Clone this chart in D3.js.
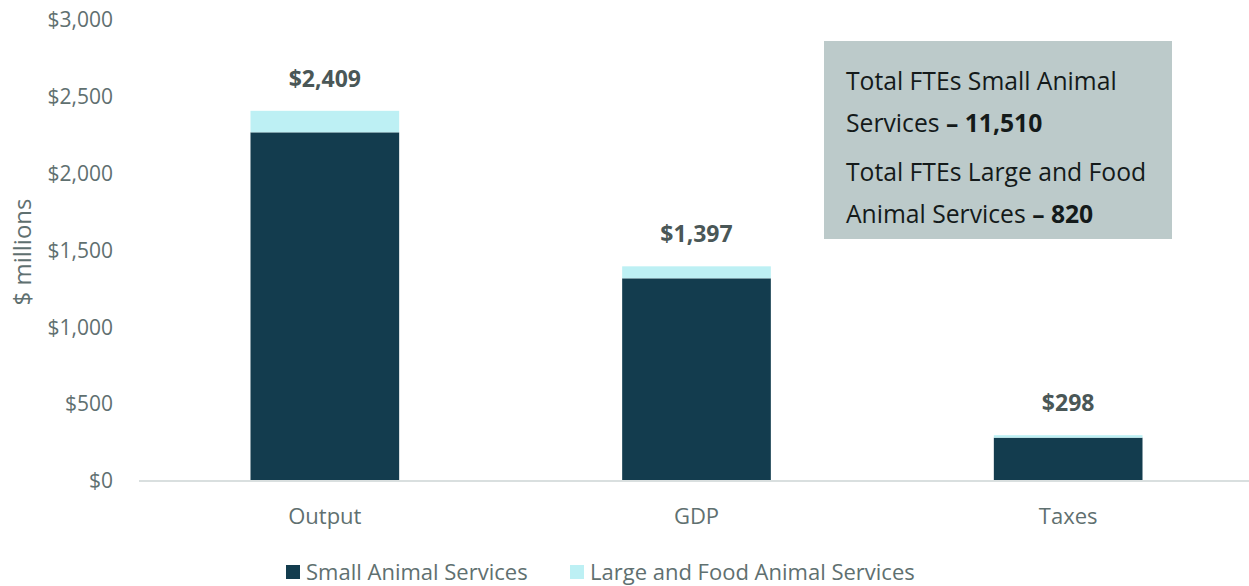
<!DOCTYPE html>
<html>
<head>
<meta charset="utf-8">
<script src="https://cdn.jsdelivr.net/npm/d3@7"></script>
<style>
  html, body { margin: 0; padding: 0; background: #fff; }
  svg { display: block; font-family: "Open Sans", "Noto Sans", sans-serif; }
</style>
</head>
<body>
<svg id="chart" width="1249" height="586"></svg>
<script>
// Economic contribution by measure, $ millions
const categories = ["Output", "GDP", "Taxes"];
const smallAnimal = [2269, 1319, 282];
const largeFoodAnimal = [140, 78, 16];
const totals = [2409, 1397, 298];
const seriesNames = ["Small Animal Services", "Large and Food Animal Services"];
const yTicks = [0, 500, 1000, 1500, 2000, 2500, 3000];

const colors = ["#133c4e", "#bdf0f4"];
const textGrey = "#5f7070";

const svg = d3.select("#chart");
const W = 1249, H = 586;
const margin = { left: 139, right: -5, top: 20, bottom: 105 };

const x = d3.scaleBand()
  .domain(categories)
  .range([margin.left, W - margin.right])
  .paddingInner(0.6)
  .paddingOuter(0.3);

const y = d3.scaleLinear()
  .domain([0, 3000])
  .range([H - margin.bottom, margin.top]);

const rows = categories.map((c, i) => ({
  category: c,
  small: smallAnimal[i],
  large: largeFoodAnimal[i],
  total: totals[i]
}));

const stack = d3.stack().keys(["small", "large"]);
const layers = stack(rows);

// y tick labels
const yAxis = d3.axisLeft(y)
  .tickValues(yTicks)
  .tickSize(0)
  .tickPadding(0)
  .tickFormat(d => "$" + d3.format(",")(d));

const yg = svg.append("g")
  .attr("transform", `translate(${113},0)`)
  .call(yAxis);
yg.select(".domain").remove();
yg.selectAll("text")
  .attr("fill", textGrey)
  .style("font-size", "21px")
  .style("font-family", "\"Open Sans\", sans-serif");

// y axis title
svg.append("text")
  .attr("transform", `translate(31, ${252}) rotate(-90)`)
  .attr("text-anchor", "middle")
  .attr("fill", textGrey)
  .style("font-size", "24px")
  .text("$ millions");

// stacked bars
svg.append("g")
  .selectAll("g")
  .data(layers)
  .join("g")
  .attr("fill", (d, i) => colors[i])
  .selectAll("rect")
  .data(d => d)
  .join("rect")
  .attr("x", d => x(d.data.category))
  .attr("width", x.bandwidth())
  .attr("y", d => y(d[1]))
  .attr("height", d => y(d[0]) - y(d[1]));

// baseline and category labels
const xAxis = d3.axisBottom(x).tickSize(0).tickPadding(0);
const xg = svg.append("g")
  .attr("transform", `translate(0, ${y(0)})`)
  .call(xAxis);
xg.select(".domain")
  .attr("stroke", "#d9dfdf")
  .attr("stroke-width", 2)
  .attr("d", `M${margin.left},0H${W}`);
xg.selectAll("text")
  .attr("dy", "0")
  .attr("y", 43)
  .attr("fill", textGrey)
  .style("font-size", "22px")
  .style("font-family", "\"Open Sans\", sans-serif");

// total labels
svg.append("g")
  .selectAll("text")
  .data(rows)
  .join("text")
  .attr("x", d => x(d.category) + x.bandwidth() / 2)
  .attr("y", d => y(d.total) - 24)
  .attr("text-anchor", "middle")
  .attr("fill", "#4a5757")
  .style("font-size", "23px")
  .style("font-weight", "bold")
  .text(d => "$" + d3.format(",")(d.total));

// FTE annotation box
const box = svg.append("g").attr("transform", "translate(824,41)");
box.append("rect")
  .attr("width", 348)
  .attr("height", 198)
  .attr("fill", "#bccaca");

const boxLines = [
  [{ t: "Total FTEs Small Animal", b: false }],
  [{ t: "Services ", b: false }, { t: "\u2013 11,510", b: true }],
  [{ t: "Total FTEs Large and Food", b: false }],
  [{ t: "Animal Services ", b: false }, { t: "\u2013 820", b: true }]
];
const lineY = [49, 91, 140, 182];
boxLines.forEach((parts, i) => {
  const t = box.append("text")
    .attr("x", 22)
    .attr("y", lineY[i])
    .attr("fill", "#141a1a")
    .style("font-size", "24.7px");
  parts.forEach(p => {
    t.append("tspan")
      .style("font-weight", p.b ? "bold" : "normal")
      .text(p.t);
  });
});

// legend
const legend = svg.append("g").attr("transform", "translate(286, 565)");
const legendX = [0, 284];
seriesNames.forEach((name, i) => {
  const g = legend.append("g").attr("transform", `translate(${legendX[i]},0)`);
  g.append("rect")
    .attr("width", 14)
    .attr("height", 14)
    .attr("fill", colors[i]);
  g.append("text")
    .attr("x", 20)
    .attr("y", 15)
    .attr("fill", textGrey)
    .style("font-size", "22px")
    .text(name);
});
</script>
</body>
</html>
